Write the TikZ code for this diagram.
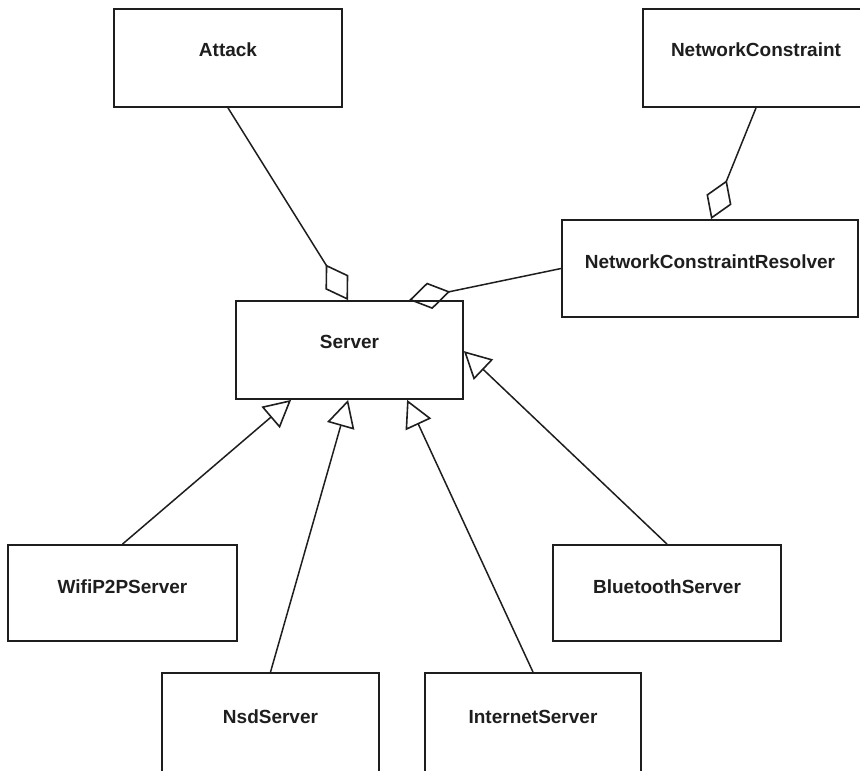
\documentclass[tikz,border=0pt]{standalone}
\usepackage{fontspec}
\setmainfont{Liberation Sans}
\usetikzlibrary{arrows.meta,calc}
\definecolor{ink}{HTML}{1E1E1E}
\tikzset{
  classbox/.style={draw=ink, line width=1.8pt, fill=white, inner sep=0pt},
  classtext/.style={font=\fontsize{19}{23}\selectfont\bfseries, text=ink, inner sep=0pt},
  aggr/.style={draw=ink, line width=1.5pt, -{Diamond[open, length=42pt, width=27pt, line width=1.6pt]}},
  gen/.style={draw=ink, line width=1.5pt, -{Triangle[open, length=27pt, width=28pt, line width=1.6pt]}}
}
\begin{document}
\begin{tikzpicture}[x=1pt,y=-1pt]
\useasboundingbox (0,0) rectangle (860,771);
\clip (0,0) rectangle (860,771);
% boxes
\node[classbox, minimum width=228pt, minimum height=98pt] (attack) at (228,58) {};
\node[classtext] (attackT) at (228,50) {Attack};
\node[classbox, minimum width=226pt, minimum height=98pt] (nc) at (756,58) {};
\node[classtext] (ncT) at (756,50) {NetworkConstraint};
\node[classbox, minimum width=296pt, minimum height=97pt] (ncr) at (710,268.5) {};
\node[classtext] (ncrT) at (710,262) {NetworkConstraintResolver};
\node[classbox, minimum width=227pt, minimum height=98pt] (server) at (349.5,350) {};
\node[classtext] (serverT) at (349.5,342) {Server};
\node[classbox, minimum width=229pt, minimum height=96pt] (wifi) at (122.5,593) {};
\node[classtext] (wifiT) at (122.5,587) {WifiP2PServer};
\node[classbox, minimum width=228pt, minimum height=96pt] (bt) at (667,593) {};
\node[classtext] (btT) at (667,587) {BluetoothServer};
\node[classbox, minimum width=217pt, minimum height=102pt] (nsd) at (270.5,724) {};
\node[classtext] (nsdT) at (270.5,717) {NsdServer};
\node[classbox, minimum width=216pt, minimum height=102pt] (inet) at (533,724) {};
\node[classtext] (inetT) at (533,717) {InternetServer};
% anchor points on targets
\coordinate (sAttack) at ($(server.north)+(-1.5,0)$);
\coordinate (sNcr) at ($(server.north west)+(174,0)$);
\coordinate (ncrTop) at ($(ncr.north west)+(150,0)$);
\coordinate (sWifi) at ($(server.south west)+(56,0)$);
\coordinate (sNsd) at ($(server.south west)+(113,0)$);
\coordinate (sInet) at ($(server.south west)+(172,0)$);
\coordinate (sBt) at ($(server.north east)+(0,51)$);
% aggregations
\draw[aggr] (attack.south) -- (sAttack);
\draw[aggr] (ncr.west) -- (sNcr);
\draw[aggr] (nc.south) -- (ncrTop);
% generalizations
\draw[gen] (wifi.north) -- (sWifi);
\draw[gen] (nsd.north) -- (sNsd);
\draw[gen] (inet.north) -- (sInet);
\draw[gen] (bt.north) -- (sBt);
\end{tikzpicture}
\end{document}
